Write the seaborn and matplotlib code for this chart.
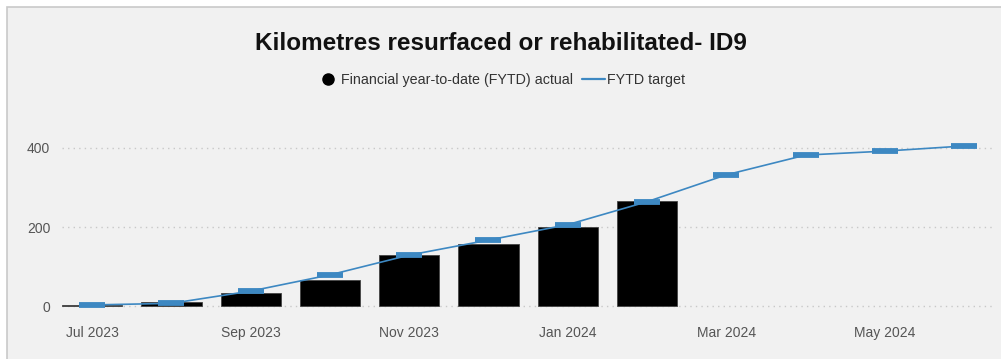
import numpy as np
import pandas as pd
import matplotlib
matplotlib.use("Agg")
import matplotlib.pyplot as plt
from matplotlib.patches import Rectangle
from matplotlib.lines import Line2D
import seaborn as sns

# Monthly categories for the financial year
months = ["Jul 2023", "Aug 2023", "Sep 2023", "Oct 2023", "Nov 2023", "Dec 2023",
          "Jan 2024", "Feb 2024", "Mar 2024", "Apr 2024", "May 2024", "Jun 2024"]
# FYTD actual kilometres (reported months only)
actual_values = [3, 10, 32, 67, 130, 156, 201, 266]
# FYTD target kilometres
target_values = [3, 7, 38, 79, 129, 167, 206, 264, 332, 382, 392, 405]
tick_labels = ["Jul 2023", "Sep 2023", "Nov 2023", "Jan 2024", "Mar 2024", "May 2024"]
y_ticks = [0, 200, 400]

title = "Kilometres resurfaced or rehabilitated- ID9"
actual_name = "Financial year-to-date (FYTD) actual"
target_name = "FYTD target"

BG = "#f1f1f1"
BLUE = "#3d88c2"
TXT = "#555555"

sns.set_theme(style="white")
plt.rcParams["font.family"] = ["Liberation Sans", "DejaVu Sans"]

fig = plt.figure(figsize=(10.01, 3.59), dpi=100)
fig.patch.set_facecolor("white")
# card background with a thin border
fig.patches.append(Rectangle((7 / 1001, -0.1), 1.2, (359 - 7) / 359 + 0.1,
                             transform=fig.transFigure, facecolor=BG,
                             edgecolor="#c9c9c9", linewidth=1.2, zorder=-5))

ax = fig.add_axes([62 / 1001, 43 / 359, 933 / 1001, 206 / 359])
ax.set_facecolor(BG)
ax.set_zorder(1)

df_actual = pd.DataFrame({"month": months[:len(actual_values)], "km": actual_values})
df_target = pd.DataFrame({"pos": np.arange(len(months)), "km": target_values})

sns.barplot(data=df_actual, x="month", y="km", order=months, color="black",
            width=0.76, edgecolor="#444444", linewidth=0.6, saturation=1,
            ax=ax, zorder=2)
sns.lineplot(data=df_target, x="pos", y="km", color=BLUE, linewidth=1.2,
             marker="_", markersize=19, markeredgewidth=4.2,
             markeredgecolor=BLUE, ax=ax, zorder=3)

ax.set_xlim(-0.38, 11.39)
ax.set_ylim(-25, 496)
ax.set_yticks(y_ticks)
ax.set_yticklabels([str(v) for v in y_ticks], fontsize=10, color=TXT)
ax.set_xticks([months.index(t) for t in tick_labels])
ax.set_xticklabels(tick_labels, fontsize=10, color=TXT)
ax.tick_params(axis="both", length=0)
ax.tick_params(axis="x", pad=7)
ax.tick_params(axis="y", pad=8.5)
ax.set_xlabel("")
ax.set_ylabel("")
for s in ax.spines.values():
    s.set_visible(False)
for v in y_ticks:
    ax.axhline(v, color="#c8c8c8", linestyle=(0, (1, 3)), linewidth=1.0, zorder=1)

fig.text(0.5, 1 - 44 / 359, title, ha="center", va="center",
         fontsize=17.5, fontweight="bold", color="#111111")

handles = [Line2D([], [], marker="o", color="black", linestyle="none", markersize=8),
           Line2D([], [], color=BLUE, linewidth=1.6)]
fig.legend(handles, [actual_name, target_name], loc="center",
           bbox_to_anchor=(0.5, 1 - 80 / 359), ncol=2, frameon=False,
           fontsize=10.3, labelcolor="#333333", handlelength=1.6,
           handletextpad=0.15, columnspacing=0.6)

fig.savefig("out.png", dpi=100, facecolor="white")
